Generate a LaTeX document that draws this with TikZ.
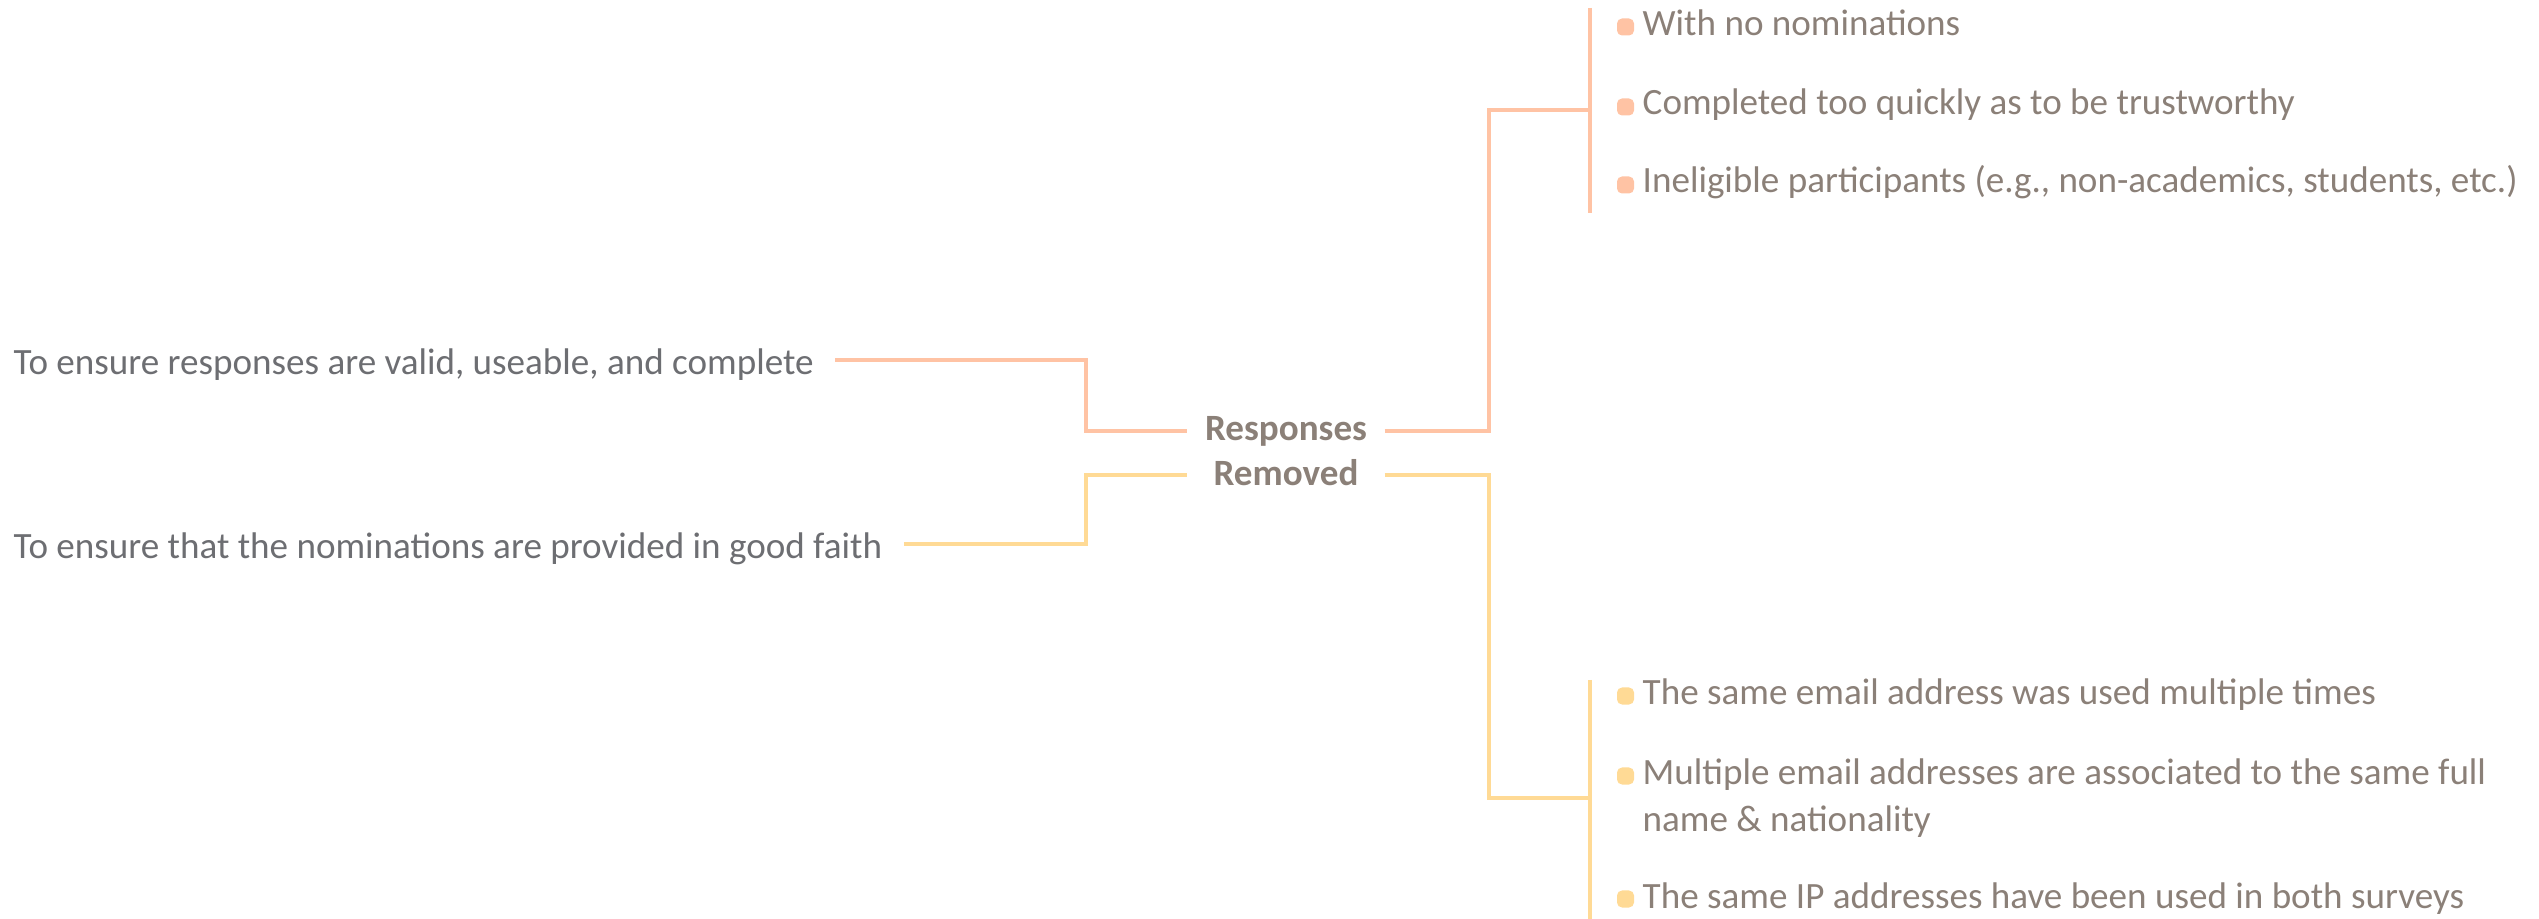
\documentclass[tikz,border=0pt]{standalone}
\usepackage{fontspec}
\setmainfont{Carlito}
\definecolor{oline}{HTML}{FFC3A4}
\definecolor{yline}{HTML}{FFDA95}
\definecolor{lgray}{HTML}{6D6E72}
\definecolor{rgray}{HTML}{8B8078}
\begin{document}
\begin{tikzpicture}[x=0.01cm,y=-0.01cm,
  txt/.style={font=\fontsize{10.55}{13.4}\selectfont, inner sep=0pt},
  lefttxt/.style={txt, text=lgray, anchor=west, inner xsep=0.21cm, inner ysep=0pt,
    text height=0.38cm, text depth=0.1cm},
  itemtxt/.style={txt, text=rgray, anchor=base west, align=left},
  ctr/.style={font=\fontsize{10.55}{12.8}\selectfont\bfseries, text=rgray, align=center,
    inner xsep=0.17cm, inner ysep=0pt},
  conn/.style={line width=0.04cm},
  obul/.style={fill=oline, draw=none, rounded corners=0.05cm, minimum size=0.17cm, inner sep=0pt},
  ybul/.style={fill=yline, draw=none, rounded corners=0.05cm, minimum size=0.17cm, inner sep=0pt}
]
\useasboundingbox (0,0) rectangle (2539,919);

% left texts
\node[lefttxt] (l1) at (-8,360) {To ensure responses are valid, useable, and complete};
\node[lefttxt] (l2) at (-8,544) {To ensure that the nominations are provided in good faith};

% centre
\node[ctr] (c) at (1286,451) {Responses\\Removed};

% orange items
\node[itemtxt] (o1) at (1642,36) {With no nominations};
\node[itemtxt] (o2) at (1642,115) {Completed too quickly as to be trustworthy};
\node[itemtxt] (o3) at (1642,193) {Ineligible participants (e.g., non-academics, students, etc.)};
\node[obul] (ob1) at (1625.5,27) {};
\node[obul] (ob2) at (1625.5,107) {};
\node[obul] (ob3) at (1625.5,185) {};

% yellow items
\node[itemtxt] (y1) at (1642,705) {The same email address was used multiple times};
\node[itemtxt] (y2) at (1642,832) {Multiple email addresses are associated to the same full\\name \& nationality};
\node[itemtxt] (y3) at (1642,908) {The same IP addresses have been used in both surveys};
\node[ybul] (yb1) at (1625.5,696) {};
\node[ybul] (yb2) at (1625.5,776) {};
\node[ybul] (yb3) at (1625.5,899) {};

% brackets
\coordinate (obt) at (1590,8);
\coordinate (obb) at (1590,213);
\coordinate (obm) at (1590,110);
\coordinate (ybt) at (1590,680);
\coordinate (ybb) at (1590,919);
\coordinate (ybm) at (1590,798);
\draw[conn, oline] (obt) -- (obb);
\draw[conn, yline] (ybt) -- (ybb);

% connectors
\draw[conn, oline] (l1.east) -- (1086,360) -- (1086,431) -- (c.west |- 0,431);
\draw[conn, yline] (l2.east) -- (1086,544) -- (1086,475) -- (c.west |- 0,475);
\draw[conn, oline] (c.east |- 0,431) -- (1489,431) -- (1489,110) -- (obm);
\draw[conn, yline] (c.east |- 0,475) -- (1489,475) -- (1489,798) -- (ybm);
\end{tikzpicture}
\end{document}
